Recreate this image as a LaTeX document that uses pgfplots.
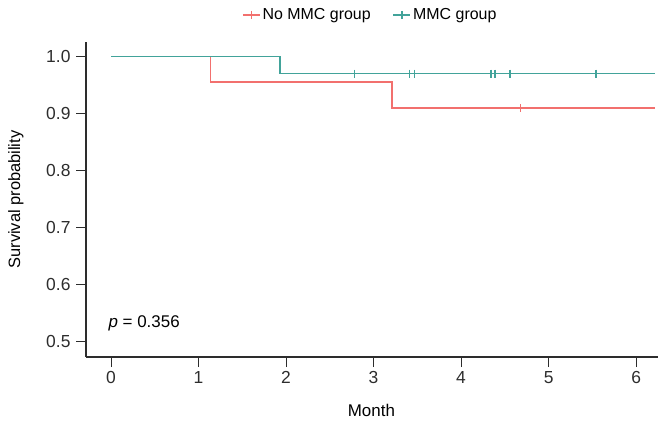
\documentclass[border=0pt]{standalone}
\usepackage{fontspec}
\setmainfont{Liberation Sans}
\usepackage{pgfplots}
\pgfplotsset{compat=1.18}
\definecolor{kmred}{RGB}{242,112,110}
\definecolor{kmteal}{RGB}{66,163,154}
\definecolor{axgray}{RGB}{45,45,45}
\begin{document}
\begin{tikzpicture}[font=\fontsize{16}{19}\selectfont]
\useasboundingbox (0,0) rectangle (663bp,427bp);
\begin{axis}[
  at={(86bp,70bp)}, anchor=south west,
  width=572bp, height=315bp, scale only axis,
  xmin=-0.286, xmax=6.25, ymin=0.473, ymax=1.025,
  axis x line*=bottom, axis y line*=left,
  axis line style={axgray, line width=1.2pt, -},
  xtick={0,1,2,3,4,5,6}, ytick={0.5,0.6,0.7,0.8,0.9,1.0},
  tick align=outside, major tick length=10bp,
  tick style={axgray, line width=0.9pt},
  /pgf/number format/assume math mode=true,
  ticklabel style={text=axgray, font=\fontsize{17.5}{20}\selectfont},
  yticklabel style={xshift=-2bp, /pgf/number format/.cd, fixed, precision=1, fixed zerofill},
  xticklabel style={yshift=-1bp},
  xlabel={Month}, ylabel={Survival probability},
  xlabel style={at={(axis description cs:0.499,-0.17)}, anchor=center, font=\fontsize{17}{20}\selectfont},
  ylabel style={at={(axis description cs:-0.1226,0.5)}, anchor=center, font=\fontsize{16.5}{20}\selectfont},
  legend style={at={(axis description cs:0.497,1.086)}, anchor=center, draw=none, fill=none,
    legend columns=2, /tikz/every even column/.append style={column sep=20bp},
    font=\fontsize{16}{19}\selectfont},
  legend cell align=left,
  clip=false,
]
\addlegendimage{kmred, line width=1.5pt, mark=+, mark size=4bp}
\addlegendentry{No MMC group}
\addlegendimage{kmteal, line width=1.5pt, mark=+, mark size=4bp}
\addlegendentry{MMC group}
% No MMC group
\addplot[kmred, line width=1.5pt, const plot mark left, forget plot] coordinates {
(0,1) (1.137,0.9545) (3.21,0.9091) (6.21,0.9091)};
% MMC group
\addplot[kmteal, line width=1.5pt, const plot mark left, forget plot] coordinates {
(0,1) (1.93,0.9697) (6.21,0.9697)};
% censor marks
\addplot[only marks, kmteal, mark=+, mark size=4bp, line width=1.5pt, forget plot] coordinates {
(2.78,0.9697) (3.41,0.9697) (3.47,0.9697) (4.34,0.9697) (4.39,0.9697) (4.56,0.9697) (5.54,0.9697)};
\addplot[only marks, kmred, mark=+, mark size=4bp, line width=1.5pt, forget plot] coordinates {
(4.68,0.9091)};
\node[anchor=west, inner sep=0pt, font=\fontsize{17}{20}\selectfont] at (axis cs:-0.03,0.5315) {\textit{p} = 0.356};
\end{axis}
\end{tikzpicture}
\end{document}
